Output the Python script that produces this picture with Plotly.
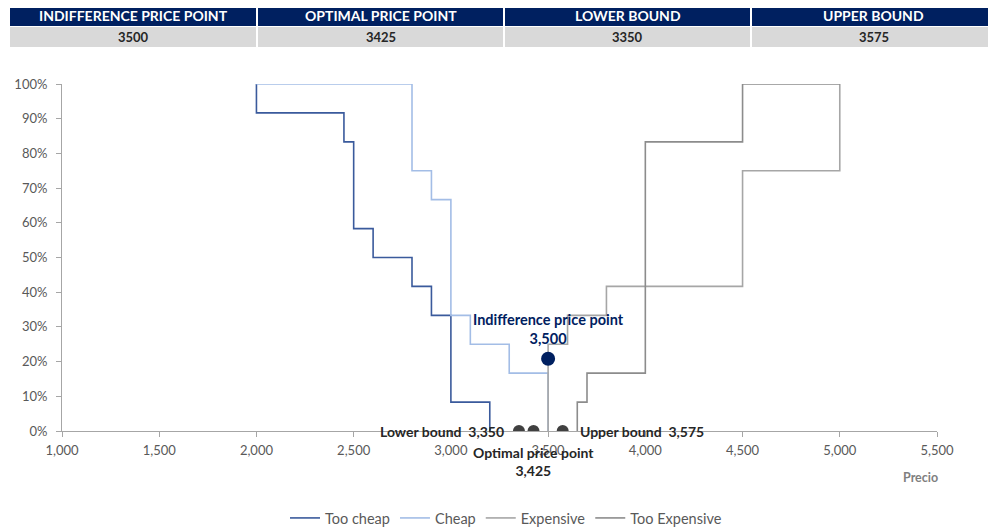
import plotly.graph_objects as go

# ---- data ----
too_cheap_price = [2000, 2000, 2450, 2500, 2600, 2800, 2900, 3000, 3200]
too_cheap_pct = [1.0, 0.9167, 0.8333, 0.5833, 0.50, 0.4167, 0.3333, 0.0833, 0.0]

cheap_price = [2000, 2800, 2900, 3000, 3100, 3300, 3500]
cheap_pct = [1.0, 0.75, 0.6667, 0.3333, 0.25, 0.1667, 0.0]

expensive_price = [3500, 3500, 3600, 3800, 4500, 5000]
expensive_pct = [0.0, 0.25, 0.3333, 0.4167, 0.75, 1.0]

too_exp_price = [3650, 3650, 3700, 4000, 4500, 5000]
too_exp_pct = [0.0, 0.0833, 0.1667, 0.8333, 1.0, 1.0]

indiff_price = 3500
indiff_pct = 0.2083
lower_bound = 3350
optimal_price = 3425
upper_bound = 3575

table_headers = ["INDIFFERENCE PRICE POINT", "OPTIMAL PRICE POINT", "LOWER BOUND", "UPPER BOUND"]
table_values = ["3500", "3425", "3350", "3575"]

x_ticks = [1000, 1500, 2000, 2500, 3000, 3500, 4000, 4500, 5000, 5500]
y_ticks = [0, 0.1, 0.2, 0.3, 0.4, 0.5, 0.6, 0.7, 0.8, 0.9, 1.0]

FONT = "Lato"
NAVY = "#002060"

fig = go.Figure()
series = [
    ("Too cheap", too_cheap_price, too_cheap_pct, "#3A5A9C"),
    ("Cheap", cheap_price, cheap_pct, "#A3BDE6"),
    ("Expensive", expensive_price, expensive_pct, "#A6A6A6"),
    ("Too Expensive", too_exp_price, too_exp_pct, "#8C8C8C"),
]
for name, xs, ys, col in series:
    fig.add_trace(go.Scatter(x=xs, y=ys, mode="lines", name=name,
                             line=dict(color=col, width=1.6, shape="hv"),
                             hoverinfo="skip"))

# markers
fig.add_trace(go.Scatter(x=[lower_bound, optimal_price, upper_bound], y=[0, 0, 0],
                         mode="markers", showlegend=False,
                         marker=dict(color="#404040", size=12), hoverinfo="skip"))
fig.add_trace(go.Scatter(x=[indiff_price], y=[indiff_pct], mode="markers", showlegend=False,
                         marker=dict(color=NAVY, size=14), hoverinfo="skip"))

lab_font = dict(family=FONT, size=14, color="#262626")
fig.add_annotation(x=indiff_price, y=indiff_pct, xref="x", yref="y",
                   text=f"<b>Indifference price point</b><br><b>{indiff_price:,}</b>",
                   showarrow=False, xanchor="center", yanchor="bottom", yshift=10,
                   font=dict(family=FONT, size=14.5, color=NAVY))
fig.add_annotation(x=lower_bound, y=0, xref="x", yref="y",
                   text=f"<b>Lower bound  {lower_bound:,}</b>", showarrow=False,
                   xanchor="right", xshift=-13, yanchor="middle", font=lab_font)
fig.add_annotation(x=upper_bound, y=0, xref="x", yref="y",
                   text=f"<b>Upper bound  {upper_bound:,}</b>", showarrow=False,
                   xanchor="left", xshift=15, yanchor="middle", font=lab_font)
fig.add_annotation(x=optimal_price, y=0, xref="x", yref="y",
                   text=f"<b>Optimal price point</b><br><b>{optimal_price:,}</b>",
                   showarrow=False, xanchor="center", yanchor="top", yshift=-11,
                   font=lab_font)

# page-pixel -> paper helpers (plot area: x 62..937, y 84..431 on the page)
PW, PH = 875.0, 347.0
def px(xp):
    return (xp - 62) / PW
def py(yp):
    return (431 - yp) / PH

# Precio axis title
fig.add_annotation(x=px(920), y=py(477), xref="paper", yref="paper", text="<b>Precio</b>",
                   showarrow=False, xanchor="center", yanchor="middle",
                   font=dict(family=FONT, size=12.5, color="#7F7F7F"))

col_edges = [10, 257, 504, 751, 996]
for i, (h, v) in enumerate(zip(table_headers, table_values)):
    x0, x1 = col_edges[i] + (1 if i else 0), col_edges[i + 1] - 1
    fig.add_shape(type="rect", xref="paper", yref="paper", x0=px(x0), x1=px(x1),
                  y0=py(26), y1=py(5), fillcolor=NAVY, line=dict(width=0), layer="below")
    fig.add_shape(type="rect", xref="paper", yref="paper", x0=px(x0), x1=px(x1),
                  y0=py(47), y1=py(27), fillcolor="#D9D9D9", line=dict(width=0), layer="below")
    fig.add_annotation(x=px((x0 + x1) / 2), y=py(15.5), xref="paper", yref="paper",
                       text=f"<b>{h}</b>", showarrow=False, xanchor="center", yanchor="middle",
                       font=dict(family=FONT, size=14, color="white"))
    fig.add_annotation(x=px((x0 + x1) / 2), y=py(37), xref="paper", yref="paper",
                       text=f"<b>{v}</b>", showarrow=False, xanchor="center", yanchor="middle",
                       font=dict(family=FONT, size=13, color="#262626"))

# the page has an 8px body margin, so the figure is 8px smaller than the window
fig.update_layout(
    width=988, height=523,
    margin=dict(l=54, r=59, t=76, b=100, autoexpand=False),
    paper_bgcolor="white", plot_bgcolor="white",
    font=dict(family=FONT, size=13, color="#595959"),
    showlegend=True,
    legend=dict(orientation="h", x=px(506), xanchor="center", y=py(518), yanchor="middle",
                font=dict(family=FONT, size=14.5, color="#595959"), itemwidth=30,
                tracegroupgap=0),
    xaxis=dict(range=[1000, 5500], tickvals=x_ticks, tickformat=",", showgrid=False,
               zeroline=False, showline=True, linecolor="#A6A6A6", linewidth=1,
               ticks="outside", tickcolor="#A6A6A6", ticklen=5, ticklabelstandoff=2,
               tickfont=dict(family=FONT, size=13, color="#595959")),
    yaxis=dict(range=[0, 1], tickvals=y_ticks, tickformat=".0%", showgrid=False,
               zeroline=False, showline=True, linecolor="#A6A6A6", linewidth=1,
               ticks="outside", tickcolor="#A6A6A6", ticklen=5, ticklabelstandoff=6,
               tickfont=dict(family=FONT, size=13, color="#595959")),
)

fig.write_html("out.html")
